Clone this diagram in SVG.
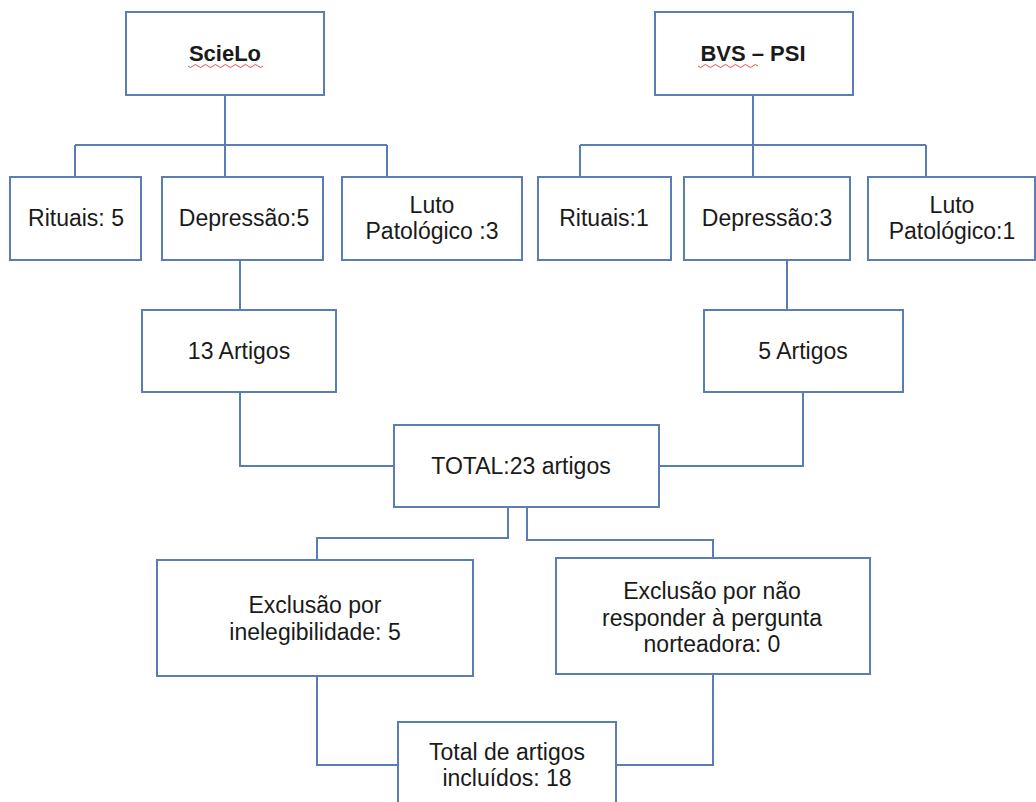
<svg xmlns="http://www.w3.org/2000/svg" width="1036" height="802" viewBox="0 0 1036 802">
<style>
.box{fill:#fff;stroke:#5a7db5;stroke-width:2}
.ln{fill:none;stroke:#5a7db5;stroke-width:2}
text{font-family:"Liberation Sans",Arial,sans-serif;font-size:23px;fill:#1a1a1a;text-anchor:middle}
.t{font-weight:bold;font-size:22px}
.sq{fill:none;stroke:#e84a4a;stroke-width:1}
</style>
<rect width="1036" height="802" fill="#fff"/>
<g id="connectors">
<path class="ln" d="M225 95V145M75 145H387M75 145V177M225 145V177M387 145V177"/>
<path class="ln" d="M753 95V145M580 145H926M580 145V177M753 145V177M926 145V177"/>
<path class="ln" d="M240 260V310M787 260V310"/>
<path class="ln" d="M240 392V466H394M803 392V466H659"/>
<path class="ln" d="M508 507V538H317V560M527 507V540H713V558"/>
<path class="ln" d="M317 676V765H398M713 674V765H616"/>
</g>
<g id="scielo"><rect class="box" x="126" y="12" width="198" height="83"/><text class="t" x="225" y="61">ScieLo</text><path class="sq" d="M188 66q2.5 3 5 0t5 0t5 0t5 0t5 0t5 0t5 0t5 0t5 0t5 0t5 0t5 0t5 0t5 0t5 0"/></g>
<g id="bvs"><rect class="box" x="655" y="12" width="198" height="83"/><text class="t" x="753" y="61">BVS – PSI</text><path class="sq" d="M698 66q2.5 3 5 0t5 0t5 0t5 0t5 0t5 0t5 0t5 0t5 0t5 0t5 0t5 0"/></g>
<g id="rituais5"><rect class="box" x="10" y="177" width="131" height="83"/><text x="76" y="226">Rituais: 5</text></g>
<g id="depressao5"><rect class="box" x="162" y="177" width="161" height="83"/><text x="244" y="226">Depressão:5</text></g>
<g id="luto3"><rect class="box" x="342" y="177" width="180" height="83"/><text x="432" y="213">Luto</text><text x="432" y="239">Patológico :3</text></g>
<g id="rituais1"><rect class="box" x="538" y="177" width="133" height="83"/><text x="604" y="226">Rituais:1</text></g>
<g id="depressao3"><rect class="box" x="684" y="177" width="166" height="83"/><text x="767" y="226">Depressão:3</text></g>
<g id="luto1"><rect class="box" x="868" y="177" width="167" height="83"/><text x="952" y="213">Luto</text><text x="952" y="239">Patológico:1</text></g>
<g id="artigos13"><rect class="box" x="142" y="310" width="194" height="82"/><text x="239" y="359">13 Artigos</text></g>
<g id="artigos5"><rect class="box" x="704" y="310" width="199" height="82"/><text x="803" y="359">5 Artigos</text></g>
<g id="total"><rect class="box" x="394" y="425" width="265" height="82"/><text x="521" y="474">TOTAL:23 artigos</text></g>
<g id="exclusao1"><rect class="box" x="157" y="560" width="316" height="116"/><text x="315" y="613">Exclusão por</text><text x="315" y="640">inelegibilidade: 5</text></g>
<g id="exclusao2"><rect class="box" x="556" y="558" width="314" height="116"/><text x="712" y="599">Exclusão por não</text><text x="712" y="626">responder à pergunta</text><text x="712" y="652">norteadora: 0</text></g>
<g id="incluidos"><rect class="box" x="398" y="722" width="218" height="90"/><text x="507" y="760">Total de artigos</text><text x="507" y="786">incluídos: 18</text></g>
</svg>
